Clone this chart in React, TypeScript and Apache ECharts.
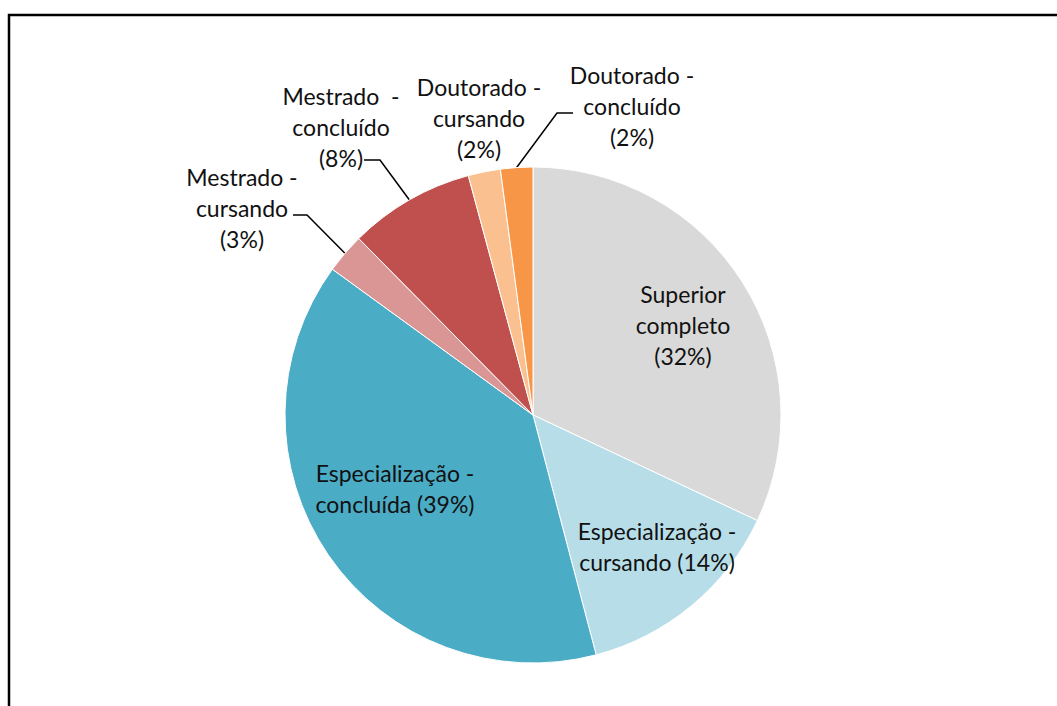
import React, { useEffect, useRef } from "react";
import * as echarts from "echarts";

const categories = [
  "Superior completo",
  "Especialização - cursando",
  "Especialização - concluída",
  "Mestrado - cursando",
  "Mestrado - concluído",
  "Doutorado - cursando",
  "Doutorado - concluído",
];
const values = [32.0, 13.9, 39.1, 2.6, 8.2, 2.1, 2.1];
const colors = ["#D9D9D9", "#B7DEE8", "#4BACC6", "#D99694", "#C0504D", "#FAC090", "#F79646"];
const labelTexts = [
  "Superior\ncompleto\n",
  "Especialização -\ncursando ",
  "Especialização -\nconcluída ",
  "Mestrado -\ncursando\n",
  "Mestrado  -\nconcluído\n",
  "Doutorado -\ncursando\n",
  "Doutorado -\nconcluído\n",
];
const outsideLabel = [false, false, false, true, true, true, true];
const showLeader = [false, false, false, true, true, false, true];
const labelPos = [
  [683, 325],
  [657, 546],
  [395, 488],
  [242, 208],
  [341, 127],
  [479, 118],
  [632, 106],
];
const leaderTail: (number[][] | null)[] = [
  null,
  null,
  null,
  [[307, 215], [293, 215]],
  [[380, 160], [364, 160]],
  null,
  [[557, 113], [573, 113]],
];

export default function App() {
  const ref = useRef<HTMLDivElement>(null);
  useEffect(() => {
    if (!ref.current) return;
    const chart = echarts.init(ref.current, undefined, { renderer: "svg" });
    const data = categories.map((name, i) => ({
      name,
      value: values[i],
      itemStyle: { color: colors[i] },
      label: { position: outsideLabel[i] ? "outside" : "inside" },
      labelLine: { show: showLeader[i] },
    }));
    chart.setOption({
      animation: false,
      backgroundColor: "#fff",
      graphic: [
        {
          type: "rect",
          shape: { x: 9, y: 15, width: 1200, height: 900 },
          style: { fill: "none", stroke: "#000", lineWidth: 2.5 },
          silent: true,
        },
      ],
      series: [
        {
          type: "pie",
          center: [533, 415],
          radius: 248,
          startAngle: 90,
          clockwise: true,
          avoidLabelOverlap: false,
          itemStyle: { borderColor: "#fff", borderWidth: 1 },
          label: {
            fontFamily: "Lato",
            fontSize: 23,
            lineHeight: 31,
            color: "#111",
            align: "center",
            formatter: (p: any) => labelTexts[p.dataIndex] + "(" + Math.round(p.percent) + "%)",
          },
          labelLine: { lineStyle: { color: "#000", width: 1.5 }, length: 20, length2: 15 },
          labelLayout: (params: any) => {
            const i = params.dataIndex;
            const res: any = {
              x: labelPos[i][0],
              y: labelPos[i][1],
              align: "center",
              verticalAlign: "middle",
            };
            const tail = leaderTail[i];
            if (tail && params.labelLinePoints && params.labelLinePoints[0]) {
              res.labelLinePoints = [params.labelLinePoints[0].slice(), tail[0], tail[1]];
            }
            return res;
          },
          data,
        },
      ],
    });
    return () => chart.dispose();
  }, []);
  return (
    <div
      ref={ref}
      style={{ position: "absolute", left: 0, top: 0, width: 1057, height: 706, background: "#fff" }}
    />
  );
}
